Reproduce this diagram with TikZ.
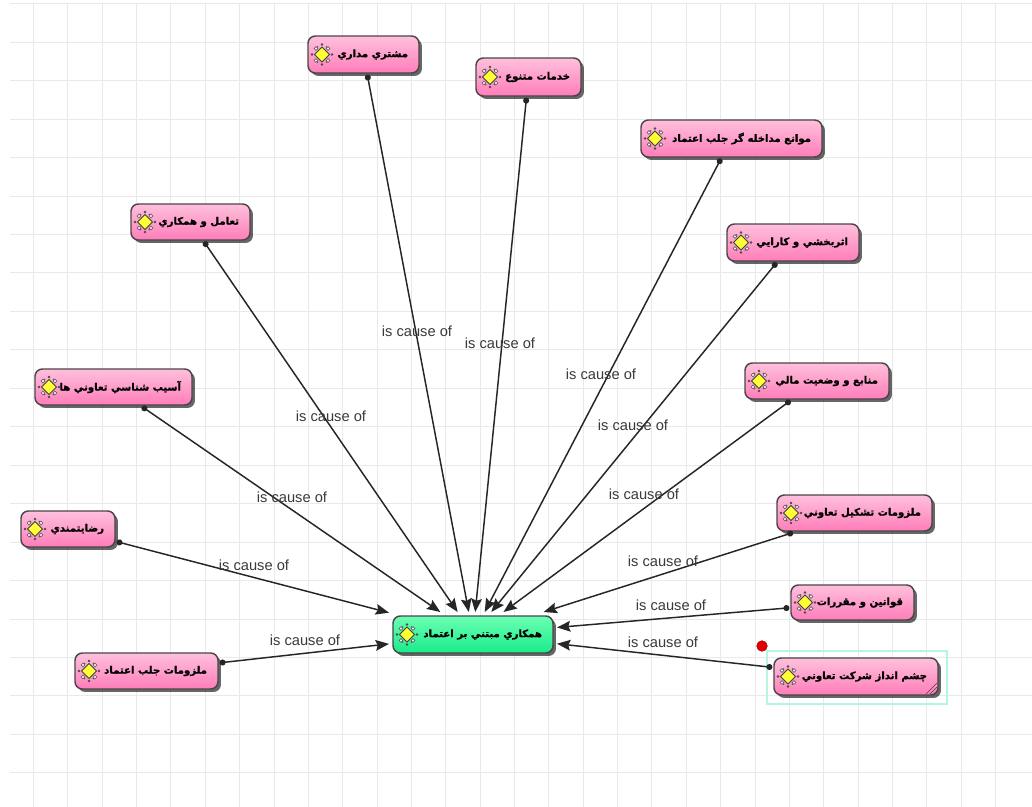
\documentclass[tikz,border=0pt]{standalone}
\usepackage{fontspec}
\setmainfont{Liberation Sans}
\newfontfamily\arfont[Script=Arabic,BoldFont={DejaVu Sans Bold},BoldFeatures={FakeBold=1.3}]{DejaVu Sans}
\TeXXeTstate=1
\usetikzlibrary{arrows.meta,shadows}
\definecolor{gridc}{HTML}{E9E9E9}
\definecolor{edgec}{HTML}{4A454A}
\definecolor{labc}{HTML}{3A3A3A}
\definecolor{framec}{HTML}{B4F5E4}
\definecolor{pinktop}{HTML}{FFC0DC}
\definecolor{pinkbot}{HTML}{FF7DB9}
\definecolor{greentop}{HTML}{6CFFB4}
\definecolor{greenbot}{HTML}{18EC8A}
\definecolor{gemc}{HTML}{FFFF33}
\newcommand{\artxt}[1]{{\arfont\bfseries\fontsize{7.6pt}{10pt}\selectfont #1}}
\tikzset{
  boxbase/.style={draw=edgec,line width=1.1pt,rounded corners=5.5pt,inner sep=0pt,
    drop shadow={shadow xshift=2.2pt,shadow yshift=-2.2pt,fill=black,opacity=.6},align=flush right},
  causebox/.style={boxbase,top color=pinktop,bottom color=pinkbot,outer sep=1.2pt},
  hubbox/.style={boxbase,top color=greentop,bottom color=greenbot,outer xsep=3pt,outer ysep=3pt},
  conn/.style={draw=black!85,line width=1.1pt,{Circle[length=4.5pt]}-{Stealth[length=10pt,width=8pt,inset=1.5pt]}},
  cause/.style={font=\fontsize{11pt}{13pt}\selectfont,text=labc,inner sep=0pt},
  gem/.pic={
    \draw[black!65,line width=0.9pt] (-4,-8)--(-7,-5) (4,-8)--(7,-5) (4,8)--(7,5) (-4,8)--(-7,5);
    \foreach \a/\b in {0/-10,10/0,0/10,-10/0}{\fill[black!70] (\a,\b) circle (1.3);}
    \draw[black!75,line width=0.7pt,fill=gemc] (0,-7.5)--(7.5,0)--(0,7.5)--(-7.5,0)--cycle;
    \foreach \a/\b in {-6/-6,6/-6,6/6,-6/6}{\draw[black!60,line width=0.5pt,fill=white] (\a,\b) circle (1.8);}
  }
}
% name, x1, y1, x2, y2, style, text
\newcommand{\mknode}[7]{%
  \pgfmathsetlengthmacro{\tw}{(#4-#2-22)*0.75pt}%
  \pgfmathsetlengthmacro{\bw}{(#4-#2)*0.75pt}%
  \pgfmathsetlengthmacro{\bh}{(#5-#3)*0.75pt}%
  \node[#6,minimum width=\bw,minimum height=\bh,text width=\tw] (#1) at ({(#2+#4)/2},{(#3+#5)/2}) {\artxt{#7}};
  \pic at ({#2+14},{(#3+#5)/2}) {gem};
}
\newcommand{\link}[3]{\draw[conn] (#1) -- (hub) node[cause] at (#2,#3) {is cause of};}
\begin{document}
\begin{tikzpicture}[x=0.75pt,y=-0.75pt]
\useasboundingbox (0,0) rectangle (1032,807);
\fill[white] (0,0) rectangle (1032,807);
% grid
\foreach \k in {0,...,28}{\draw[gridc,line width=0.75pt] ({33.5+34.36*\k},4) -- ({33.5+34.36*\k},807);}
\foreach \k in {0,...,20}{\draw[gridc,line width=0.75pt] (10,{3.8+38.45*\k}) -- (1032,{3.8+38.45*\k});}
% selection frame
\draw[draw=framec,line width=1.4pt] (767,651) rectangle (947,704);
% nodes
\mknode{hub}{393}{616}{553}{653}{hubbox}{\beginR همكاري مبتني بر اعتماد\endR}
\mknode{a}{308}{36}{419}{73}{causebox}{\beginR مشتري مداري\endR}
\mknode{b}{476}{58}{581}{96}{causebox}{\beginR خدمات متنوع\endR}
\mknode{c}{641}{120}{822}{157}{causebox}{\beginR موانع مداخله گر جلب اعتماد\endR}
\mknode{d}{727}{224}{859}{261}{causebox}{\beginR اثربخشي و كارايي\endR}
\mknode{e}{745}{363}{889}{399}{causebox}{\beginR منابع و وضعيت مالي\endR}
\mknode{f}{777}{495}{932}{531}{causebox}{\beginR ملزومات تشكيل تعاوني\endR}
\mknode{g}{791}{585}{914}{620}{causebox}{\beginR قوانين و مقررات\endR}
\mknode{h}{774}{658}{938}{695}{causebox}{\beginR چشم انداز شركت تعاوني\endR}
\mknode{i}{75}{653}{218}{689}{causebox}{\beginR ملزومات جلب اعتماد\endR}
\mknode{j}{21}{511}{115}{547}{causebox}{\beginR رضايتمندي\endR}
\mknode{k}{35}{369}{192}{405}{causebox}{\beginR آسيب شناسي تعاوني ها\endR}
\mknode{l}{131}{204}{250}{240}{causebox}{\beginR تعامل و همكاري\endR}
% connectors
\link{a}{417}{331}
\link{b}{500}{343}
\link{c}{601}{374}
\link{d}{633}{425}
\link{e}{644}{494}
\link{f}{663}{561}
\link{g}{671}{605}
\link{h}{663}{642}
\link{i}{305}{640}
\link{j}{254}{565}
\link{k}{292}{497}
\link{l}{331}{416}
% resize hatch and red handle
\foreach \d in {3,7,11}{\draw[edgec,line width=0.5pt] ({937-\d},694) -- (937,{694-\d});}
\fill[red!90!black,draw=red!60!black,line width=0.4pt] (762,646) circle (5.3);
\end{tikzpicture}
\end{document}
